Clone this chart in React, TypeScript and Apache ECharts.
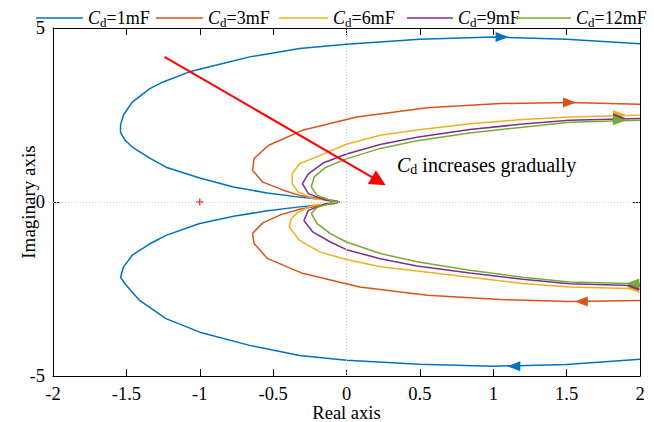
import React, { useEffect, useRef } from "react";
import * as echarts from "echarts";

const seriesNames = ["Cd=1mF", "Cd=3mF", "Cd=6mF", "Cd=9mF", "Cd=12mF"];
const colors = ["#0072BD", "#D95319", "#EDB120", "#7E2F8E", "#77AC30"];

// lower branches, traced from the right edge towards the origin
const lower1mF = [[2.0, -4.52], [1.5, -4.67], [1.0, -4.72], [0.5, -4.66], [0, -4.55], [-0.32, -4.41], [-0.66, -4.12], [-1.0, -3.74], [-1.23, -3.35], [-1.41, -2.83], [-1.51, -2.35], [-1.54, -2.16], [-1.52, -1.87], [-1.46, -1.53], [-1.34, -1.2], [-1.23, -0.96], [-1.0, -0.62], [-0.77, -0.41], [-0.55, -0.26], [-0.32, -0.14], [-0.09, -0.05], [-0.045, 0]];
const lower3mF = [[2.0, -2.83], [1.52, -2.86], [1.05, -2.8], [0.55, -2.68], [0.09, -2.44], [-0.3, -2.05], [-0.54, -1.62], [-0.63, -1.19], [-0.64, -0.9], [-0.57, -0.6], [-0.45, -0.37], [-0.32, -0.21], [-0.18, -0.1], [-0.045, 0]];
const lower6mF = [[2.0, -2.49], [1.52, -2.44], [1.2, -2.34], [0.84, -2.16], [0.48, -1.98], [0.23, -1.86], [0, -1.65], [-0.18, -1.44], [-0.32, -1.1], [-0.39, -0.72], [-0.38, -0.5], [-0.33, -0.29], [-0.23, -0.1], [-0.045, 0]];
const lower9mF = [[2.0, -2.41], [1.52, -2.35], [1.2, -2.22], [0.84, -2.04], [0.48, -1.84], [0.23, -1.63], [0, -1.37], [-0.11, -1.15], [-0.23, -0.86], [-0.29, -0.53], [-0.26, -0.24], [-0.14, -0.05], [-0.045, 0]];
const lower12mF = [[2.0, -2.35], [1.52, -2.3], [1.2, -2.16], [0.84, -1.96], [0.48, -1.72], [0.23, -1.48], [0, -1.15], [-0.11, -0.91], [-0.2, -0.62], [-0.24, -0.33], [-0.2, -0.15], [-0.09, -0.02], [-0.045, 0]];

// upper branches, traced from the origin towards the right edge
const upper1mF = [[-0.045, 0], [-0.09, 0.04], [-0.32, 0.14], [-0.54, 0.26], [-0.77, 0.43], [-1.0, 0.69], [-1.23, 1.0], [-1.34, 1.26], [-1.46, 1.58], [-1.51, 1.78], [-1.54, 2.0], [-1.54, 2.21], [-1.52, 2.5], [-1.46, 2.87], [-1.34, 3.26], [-1.25, 3.45], [-1.07, 3.74], [-0.85, 3.97], [-0.66, 4.17], [-0.32, 4.41], [0, 4.53], [0.5, 4.68], [1.0, 4.74], [1.5, 4.68], [2.0, 4.55]];
const upper3mF = [[-0.045, 0], [-0.18, 0.1], [-0.32, 0.19], [-0.43, 0.34], [-0.57, 0.57], [-0.64, 0.91], [-0.63, 1.25], [-0.53, 1.63], [-0.3, 2.06], [0.07, 2.44], [0.55, 2.71], [1.05, 2.83], [1.52, 2.86], [2.0, 2.81]];
const upper6mF = [[-0.045, 0], [-0.23, 0.1], [-0.33, 0.29], [-0.37, 0.53], [-0.37, 0.81], [-0.32, 1.1], [-0.18, 1.34], [0, 1.66], [0.23, 1.92], [0.48, 2.07], [0.84, 2.25], [1.2, 2.37], [1.52, 2.44], [2.0, 2.49]];
const upper9mF = [[-0.045, 0], [-0.14, 0.05], [-0.26, 0.24], [-0.3, 0.53], [-0.26, 0.81], [-0.16, 1.12], [0, 1.38], [0.23, 1.65], [0.48, 1.86], [0.84, 2.08], [1.2, 2.24], [1.52, 2.35], [2.0, 2.4]];
const upper12mF = [[-0.045, 0], [-0.09, 0.02], [-0.2, 0.19], [-0.24, 0.43], [-0.22, 0.72], [-0.14, 1.0], [0, 1.24], [0.23, 1.54], [0.48, 1.76], [0.84, 1.98], [1.2, 2.15], [1.52, 2.29], [2.0, 2.35]];

// direction arrows on each curve
const arrowsUpper = [[1.06, 4.74], [1.52, 2.86], [1.86, 2.5], [1.86, 2.41], [1.86, 2.35]];
const arrowsLower = [[1.14, -4.72], [1.6, -2.86], [1.95, -2.47], [1.95, -2.41], [1.95, -2.34]];

const criticalPoint = [[-1, 0]];

const lowers = [lower1mF, lower3mF, lower6mF, lower9mF, lower12mF];
const uppers = [upper1mF, upper3mF, upper6mF, upper9mF, upper12mF];

const font = "'Liberation Serif', 'Times New Roman', serif";

const legendRich = {
  c: { fontFamily: font, fontSize: 18, fontStyle: "italic", color: "#000", lineHeight: 24 },
  d: { fontFamily: font, fontSize: 13, color: "#000", padding: [8, 0, 0, 0] },
  n: { fontFamily: font, fontSize: 18, color: "#000", lineHeight: 24 },
};

const legendLeft = [31, 151, 274, 402, 510];
const legendWidth = [47, 47, 49, 46, 56];

export default function App() {
  const ref = useRef<HTMLDivElement>(null);
  useEffect(() => {
    const chart = echarts.init(ref.current!, null, { renderer: "svg" });
    const curveSeries = seriesNames.map((name, i) => ({
      type: "line",
      name,
      data: [...lowers[i], ...uppers[i]],
      symbol: "none",
      showSymbol: false,
      smooth: false,
      clip: true,
      z: 3,
      lineStyle: { color: colors[i], width: 1.5 },
      itemStyle: { color: colors[i] },
      markPoint: {
        symbol: "triangle",
        symbolSize: [10, 13],
        silent: true,
        label: { show: false },
        itemStyle: { color: colors[i] },
        data: [
          { coord: arrowsUpper[i], symbolRotate: -90 },
          { coord: arrowsLower[i], symbolRotate: 90 },
        ],
      },
    }));

    const axisCommon = {
      axisLine: { onZero: false, lineStyle: { color: "#000", width: 1 } },
      axisTick: { inside: true, length: 7, lineStyle: { color: "#000", width: 1 } },
      splitLine: { show: false },
    };

    const option: any = {
      animation: false,
      backgroundColor: "#fff",
      grid: { left: 53, right: 14, top: 28, bottom: 46, containLabel: false, outerBoundsMode: "none" },
      legend: seriesNames.map((name, i) => ({
        left: legendLeft[i],
        top: 4,
        icon: "rect",
        itemWidth: legendWidth[i],
        itemHeight: 1.5,
        itemGap: 0,
        selectedMode: false,
        data: [name],
        formatter: (n: string) => `{c|C}{d|d}{n|${n.slice(2)}}`,
        textStyle: { rich: legendRich, fontFamily: font, fontSize: 18, color: "#000" },
      })),
      xAxis: [
        {
          type: "value",
          min: -2,
          max: 2,
          interval: 0.5,
          position: "bottom",
          name: "Real axis",
          nameLocation: "middle",
          nameGap: 28,
          nameMoveOverlap: false,
          nameTextStyle: { fontFamily: font, fontSize: 18.5, lineHeight: 18, color: "#000" },
          axisLabel: { margin: 9, fontFamily: font, fontSize: 18.5, lineHeight: 18, color: "#000" },
          ...axisCommon,
        },
        {
          type: "value",
          min: -2,
          max: 2,
          interval: 0.5,
          position: "top",
          axisLabel: { show: false },
          ...axisCommon,
        },
      ],
      yAxis: [
        {
          type: "value",
          min: -5,
          max: 5,
          interval: 5,
          position: "left",
          name: "Imaginary axis",
          nameLocation: "middle",
          nameGap: 15,
          nameRotate: 90,
          nameMoveOverlap: false,
          nameTextStyle: { fontFamily: font, fontSize: 19, color: "#000" },
          axisLabel: { margin: 8, fontFamily: font, fontSize: 18.5, color: "#000" },
          ...axisCommon,
        },
        {
          type: "value",
          min: -5,
          max: 5,
          interval: 5,
          position: "right",
          axisLabel: { show: false },
          ...axisCommon,
        },
      ],
      series: [
        {
          type: "line",
          name: "zeroLines",
          data: [],
          silent: true,
          z: 1,
          markLine: {
            silent: true,
            symbol: "none",
            label: { show: false },
            lineStyle: { color: "#c8c8c8", type: [1, 2], width: 1 },
            data: [{ xAxis: 0 }, { yAxis: 0 }],
          },
        },
        ...curveSeries,
        {
          type: "scatter",
          name: "critical",
          data: criticalPoint,
          symbol: "path://M4,0H6V4H10V6H6V10H4V6H0V4H4Z",
          symbolSize: 7,
          itemStyle: { color: "#ff0000" },
          silent: true,
          z: 4,
        },
        {
          type: "line",
          name: "trendArrow",
          data: [],
          silent: true,
          z: 5,
          itemStyle: { color: "#ff0000" },
          markLine: {
            silent: true,
            symbol: ["none", "triangle"],
            symbolSize: 16,
            label: { show: false },
            itemStyle: { color: "#ff0000" },
            lineStyle: { color: "#ff0000", type: "solid", width: 2 },
            data: [[{ coord: [-1.24, 4.17] }, { coord: [0.22, 0.6] }]],
          },
        },
      ],
      graphic: [
        {
          type: "text",
          left: 397,
          top: 155,
          style: {
            text: "{c|C}{d|d}{n| increases gradually}",
            rich: {
              c: { fontFamily: font, fontSize: 20, fontStyle: "italic", fill: "#000", lineHeight: 26 },
              d: { fontFamily: font, fontSize: 14, fill: "#000", padding: [9, 0, 0, 0] },
              n: { fontFamily: font, fontSize: 20, fill: "#000", lineHeight: 26 },
            },
          },
        },
      ],
    };
    chart.setOption(option);
    return () => chart.dispose();
  }, []);
  return <div ref={ref} style={{ position: "fixed", left: 0, top: 0, width: 654, height: 422 }} />;
}
